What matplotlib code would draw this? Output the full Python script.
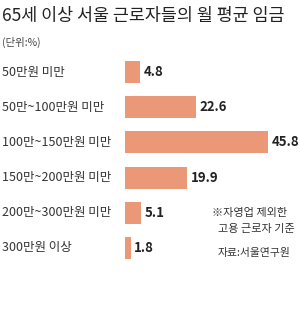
import matplotlib.pyplot as plt
from matplotlib.transforms import blended_transform_factory

plt.rcParams['font.family'] = ['Noto Sans CJK KR', 'DejaVu Sans']

categories = ['50만원 미만', '50만~100만원 미만', '100만~150만원 미만',
              '150만~200만원 미만', '200만~300만원 미만', '300만원 이상']
values = [4.8, 22.6, 45.8, 19.9, 5.1, 1.8]
value_labels = ['4.8', '22.6', '45.8', '19.9', '5.1', '1.8']

W, H = 300, 320
fig = plt.figure(figsize=(W / 100, H / 100), dpi=100)
fig.patch.set_facecolor('white')

# axes in pixel space: x 125..300, y 54.4..265.6
ax = fig.add_axes([125 / W, 1 - 265.6 / H, 175 / W, 211.2 / H])
ax.set_xlim(0, 175 / 3.12)
ax.set_ylim(5.5, -0.5)
ax.axis('off')

pos = list(range(len(categories)))
ax.barh(pos, values, height=0.63, color='#EB9878')

for p, v, t in zip(pos, values, value_labels):
    ax.text(v + 1.2, p, t, ha='left', va='center', fontsize=9.5,
            fontweight='bold', color='#222222')

tr = blended_transform_factory(fig.transFigure, ax.transData)
for p, c in zip(pos, categories):
    ax.text(2 / W, p, c, transform=tr, ha='left', va='center',
            fontsize=9, color='#333333')

fig.text(2 / W, 1 - 16 / H, '65세 이상 서울 근로자들의 월 평균 임금', ha='left',
         va='center', fontsize=12.5, color='#222222')
fig.text(2 / W, 1 - 42 / H, '(단위:%)', ha='left', va='center',
         fontsize=7.5, color='#444444')

fig.text(212 / W, 1 - 213 / H, '※자영업 제외한', ha='left', va='center',
         fontsize=8, color='#333333')
fig.text(218 / W, 1 - 229 / H, '고용 근로자 기준', ha='left', va='center',
         fontsize=8, color='#333333')
fig.text(218 / W, 1 - 253 / H, '자료:서울연구원', ha='left', va='center',
         fontsize=7.8, color='#333333')

fig.savefig('out.png', dpi=100)
